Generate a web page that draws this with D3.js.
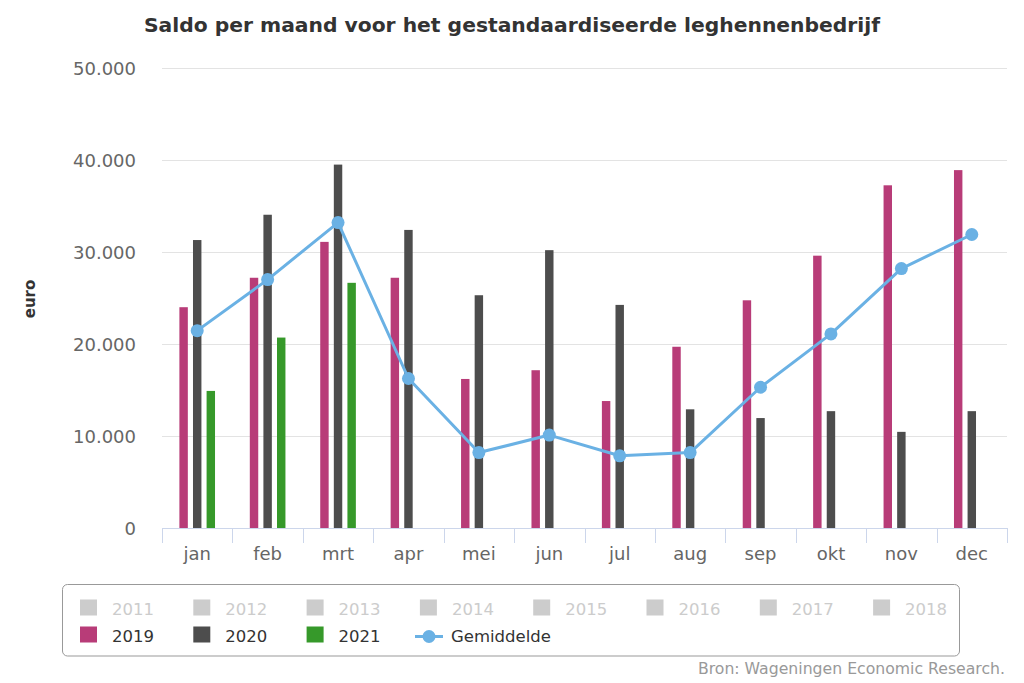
<!DOCTYPE html>
<html>
<head>
<meta charset="utf-8">
<script src="https://cdn.jsdelivr.net/npm/d3@7"></script>
<style>
  html, body { margin: 0; padding: 0; background: #fff; }
  svg { display: block; font-family: "DejaVu Sans", Verdana, sans-serif; }
</style>
</head>
<body>
<svg id="chart" width="1024" height="683"></svg>
<script>
const months = ["jan","feb","mrt","apr","mei","jun","jul","aug","sep","okt","nov","dec"];
const s2019 = [24000, 27200, 31100, 27200, 16200, 17150, 13800, 19700, 24750, 29600, 37250, 38900];
const s2020 = [31300, 34050, 39500, 32400, 25300, 30200, 24250, 12900, 11950, 12700, 10450, 12700];
const s2021 = [14900, 20700, 26650, null, null, null, null, null, null, null, null, null];
const gemiddelde = [21450, 27000, 33200, 16250, 8200, 10100, 7850, 8200, 15300, 21100, 28200, 31900];
const yTicks = [0, 10000, 20000, 30000, 40000, 50000];
const legendInactive = ["2011","2012","2013","2014","2015","2016","2017","2018"];

const barSeries = [
  { name: "2019", values: s2019, color: "#b83c78" },
  { name: "2020", values: s2020, color: "#4d4d4d" },
  { name: "2021", values: s2021, color: "#36992a" }
];
const lineColor = "#6ab1e4";

const svg = d3.select("#chart");
const pLeft = 162, pRight = 1007, pTop = 68, pBottom = 528;

const x = d3.scaleBand().domain(months).range([pLeft, pRight]).padding(0);
const y = d3.scaleLinear().domain([0, 50000]).range([pBottom, pTop]);
const slot = 13.6;
const xs = d3.scaleBand().domain(barSeries.map(d => d.name))
  .range([-slot * 1.5, slot * 1.5]).paddingInner(0.38).paddingOuter(0.19);

// title
svg.append("text").attr("x", 512).attr("y", 32).attr("text-anchor", "middle")
  .attr("font-size", 20.3).attr("font-weight", "bold").attr("fill", "#333")
  .text("Saldo per maand voor het gestandaardiseerde leghennenbedrijf");

// gridlines
svg.append("g").selectAll("line").data(yTicks).join("line")
  .attr("x1", pLeft).attr("x2", pRight)
  .attr("y1", d => Math.round(y(d)) + 0.5).attr("y2", d => Math.round(y(d)) + 0.5)
  .attr("stroke", "#e3e3e3").attr("stroke-width", 1);

// y axis labels
const fmt = d => d === 0 ? "0" : d3.format(",")(d).replace(/,/g, ".");
svg.append("g").selectAll("text").data(yTicks).join("text")
  .attr("x", 136).attr("y", d => y(d) + 7)
  .attr("text-anchor", "end").attr("font-size", 18).attr("fill", "#666")
  .text(fmt);

// y axis title
svg.append("text").attr("transform", "translate(35,299) rotate(-90)")
  .attr("text-anchor", "middle").attr("font-size", 15).attr("font-weight", "bold")
  .attr("fill", "#333").text("euro");

// bars
barSeries.forEach(s => {
  svg.append("g").selectAll("rect")
    .data(months.map((m, i) => ({ m, v: s.values[i] })).filter(d => d.v != null))
    .join("rect")
    .attr("x", d => x(d.m) + x.bandwidth() / 2 + xs(s.name))
    .attr("width", xs.bandwidth())
    .attr("y", d => y(d.v))
    .attr("height", d => y(0) - y(d.v))
    .attr("fill", s.color);
});

// x axis
const xAxis = svg.append("g");
xAxis.append("line").attr("x1", pLeft).attr("x2", pRight)
  .attr("y1", pBottom + 0.5).attr("y2", pBottom + 0.5).attr("stroke", "#ccd6eb");
const bounds = months.map(m => x(m)).concat([pRight]);
xAxis.selectAll("line.tick").data(bounds).join("line").attr("class", "tick")
  .attr("x1", d => Math.round(d) + 0.5).attr("x2", d => Math.round(d) + 0.5)
  .attr("y1", pBottom).attr("y2", pBottom + 15).attr("stroke", "#ccd6eb");
xAxis.selectAll("text").data(months).join("text")
  .attr("x", d => x(d) + x.bandwidth() / 2).attr("y", 560)
  .attr("text-anchor", "middle").attr("font-size", 18).attr("fill", "#666")
  .text(d => d);

// line
const line = d3.line().x((d, i) => x(months[i]) + x.bandwidth() / 2).y(d => y(d));
svg.append("path").datum(gemiddelde).attr("d", line)
  .attr("fill", "none").attr("stroke", lineColor).attr("stroke-width", 3)
  .attr("stroke-linejoin", "round");
svg.append("g").selectAll("circle").data(gemiddelde).join("circle")
  .attr("cx", (d, i) => x(months[i]) + x.bandwidth() / 2).attr("cy", d => y(d))
  .attr("r", 6.5).attr("fill", lineColor);

// legend
svg.append("rect").attr("x", 62.5).attr("y", 584.5).attr("width", 897).attr("height", 71.5)
  .attr("rx", 5).attr("fill", "#fff").attr("stroke", "#999").attr("stroke-width", 1);
const colX = i => 80 + i * 113.3;
const lg = svg.append("g");
legendInactive.forEach((name, i) => {
  lg.append("rect").attr("x", colX(i)).attr("y", 599.5).attr("width", 17).attr("height", 16).attr("fill", "#ccc");
  lg.append("text").attr("x", colX(i) + 32).attr("y", 615).attr("font-size", 16.5).attr("fill", "#ccc").text(name);
});
barSeries.forEach((s, i) => {
  lg.append("rect").attr("x", colX(i)).attr("y", 626.5).attr("width", 17).attr("height", 16).attr("fill", s.color);
  lg.append("text").attr("x", colX(i) + 32).attr("y", 642).attr("font-size", 16.5).attr("fill", "#333").text(s.name);
});
lg.append("line").attr("x1", 415).attr("x2", 443).attr("y1", 636.5).attr("y2", 636.5)
  .attr("stroke", lineColor).attr("stroke-width", 3);
lg.append("circle").attr("cx", 429).attr("cy", 636.5).attr("r", 6.5).attr("fill", lineColor);
lg.append("text").attr("x", 451).attr("y", 642).attr("font-size", 16.5).attr("fill", "#333").text("Gemiddelde");

// credits
svg.append("text").attr("x", 1005).attr("y", 674).attr("text-anchor", "end")
  .attr("font-size", 15.7).attr("fill", "#999").text("Bron: Wageningen Economic Research.");
</script>
</body>
</html>
